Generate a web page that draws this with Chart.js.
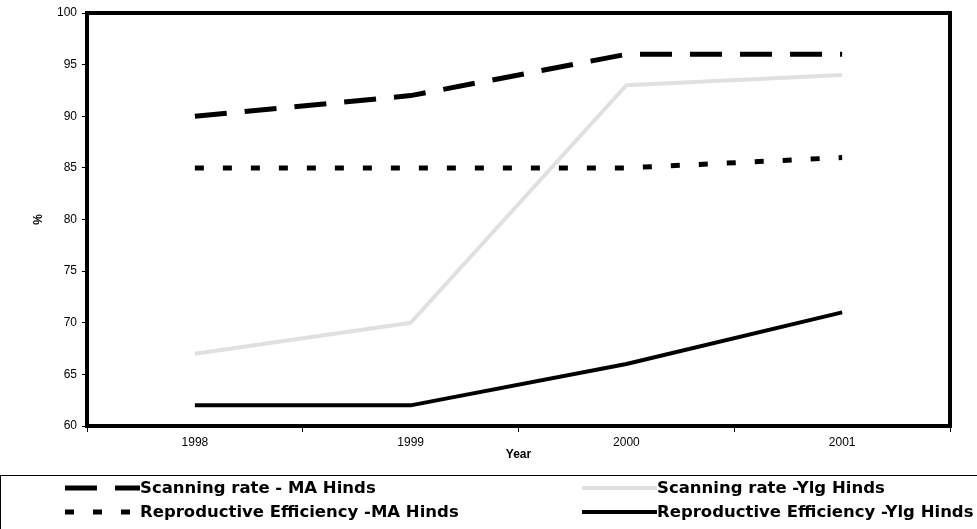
<!DOCTYPE html>
<html>
<head>
<meta charset="utf-8">
<script src="https://cdn.jsdelivr.net/npm/chart.js@4.4.1/dist/chart.umd.min.js"></script>
<style>
  html, body { margin: 0; padding: 0; background: #fff; }
  #wrap { width: 977px; height: 529px; position: relative; }
</style>
</head>
<body>
<div id="wrap"><canvas id="chart" width="977" height="529"></canvas></div>
<script>
// data
const years = ['1998', '1999', '2000', '2001'];
const scanMA = [90, 92, 96, 96];
const scanYlg = [67, 70, 93, 94];
const reproMA = [85, 85, 85, 86];
const reproYlg = [62, 62, 66, 71];
const seriesNames = [
    'Scanning rate - MA Hinds',
    'Scanning rate -Ylg Hinds',
    'Reproductive Efficiency -MA Hinds',
    'Reproductive Efficiency -Ylg Hinds'
];

// thick black frame round the plot area
const frame = {
    id: 'frame',
    afterDatasetsDraw(chart) {
        const a = chart.chartArea;
        const ctx = chart.ctx;
        ctx.save();
        ctx.strokeStyle = '#000';
        ctx.lineWidth = 4;
        ctx.strokeRect(a.left, a.top, a.right - a.left, a.bottom - a.top);
        ctx.restore();
    }
};

// legend box under the chart, two columns
const boxLegend = {
    id: 'boxLegend',
    afterDraw(chart) {
        const ctx = chart.ctx;
        ctx.save();
        ctx.strokeStyle = '#000';
        ctx.lineWidth = 1;
        ctx.strokeRect(0.5, 475.5, 990, 60);
        const spots = [
            { x: 65, y: 488 }, { x: 582, y: 488 },
            { x: 65, y: 512 }, { x: 582, y: 512 }
        ];
        ctx.font = 'bold 16.5px "DejaVu Sans"';
        ctx.textBaseline = 'middle';
        chart.data.datasets.forEach((ds, i) => {
            const p = spots[i];
            ctx.beginPath();
            ctx.setLineDash(ds.borderDash || []);
            ctx.strokeStyle = ds.borderColor;
            ctx.lineWidth = ds.borderWidth;
            ctx.moveTo(p.x, p.y);
            ctx.lineTo(p.x + 75, p.y);
            ctx.stroke();
            ctx.setLineDash([]);
            ctx.fillStyle = '#000';
            ctx.fillText(ds.label, p.x + 75, p.y + 1);
        });
        ctx.restore();
    }
};

new Chart(document.getElementById('chart'), {
    type: 'line',
    data: {
        labels: years,
        datasets: [
            { label: seriesNames[0], data: scanMA, borderColor: '#000', borderWidth: 5, borderDash: [32, 18] },
            { label: seriesNames[1], data: scanYlg, borderColor: '#e0e0e0', borderWidth: 4 },
            { label: seriesNames[2], data: reproMA, borderColor: '#000', borderWidth: 5, borderDash: [9, 19] },
            { label: seriesNames[3], data: reproYlg, borderColor: '#000', borderWidth: 4 }
        ]
    },
    options: {
        responsive: false,
        animation: false,
        layout: { padding: { top: 13, right: 27, bottom: 59, left: 0 } },
        elements: {
            point: { radius: 0 },
            line: { tension: 0, fill: false, borderCapStyle: 'butt' }
        },
        plugins: {
            legend: { display: false },
            tooltip: { enabled: false }
        },
        scales: {
            x: {
                offset: true,
                grid: { display: true, drawOnChartArea: false, offset: true, color: '#000', tickLength: 6 },
                border: { display: false },
                ticks: { color: '#000', font: { family: 'Liberation Sans', size: 12 }, padding: 3 },
                title: { display: true, text: 'Year', color: '#000', font: { family: 'Liberation Sans', size: 12, weight: 'bold' }, padding: { top: 0, bottom: 8 } },
                afterFit(scale) { scale.height = 44; }
            },
            y: {
                min: 60,
                max: 100,
                ticks: { stepSize: 5, color: '#000', font: { family: 'Liberation Sans', size: 12 }, padding: 5 },
                grid: { display: true, drawOnChartArea: false, color: '#000', tickLength: 5 },
                border: { display: false },
                title: { display: true, text: '%', color: '#000', font: { family: 'Liberation Sans', size: 12, weight: 'bold' }, padding: { top: 31 } },
                afterFit(scale) { scale.width = 87; }
            }
        }
    },
    plugins: [frame, boxLegend]
});
</script>
</body>
</html>
